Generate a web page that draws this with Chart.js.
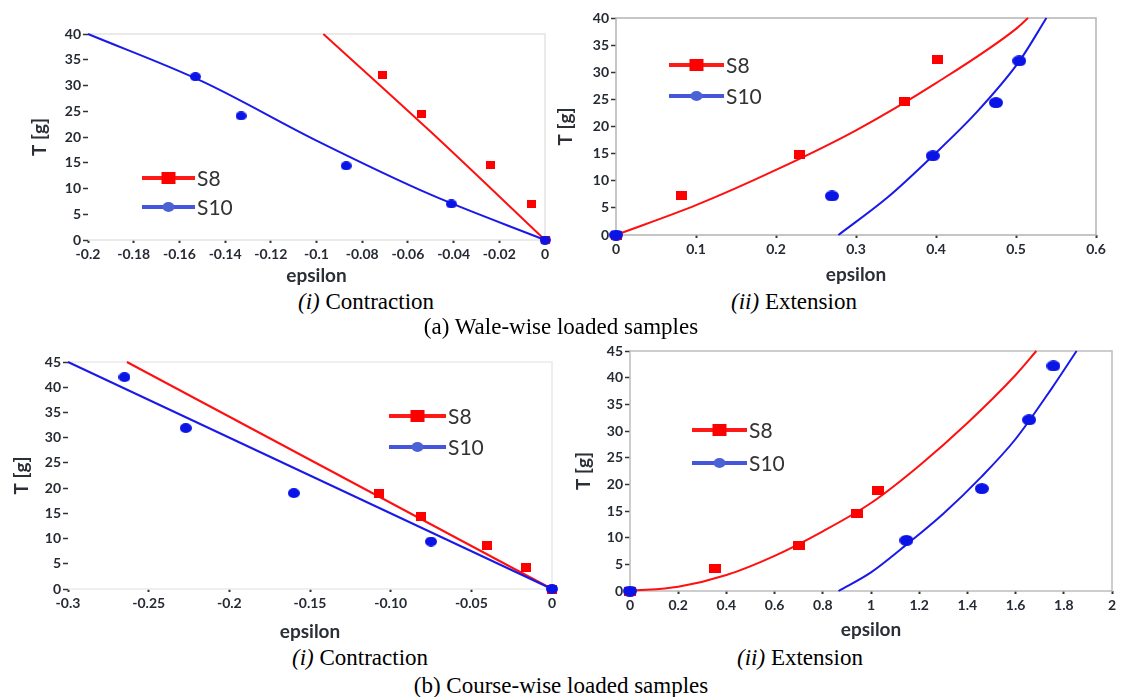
<!DOCTYPE html>
<html>
<head>
<meta charset="utf-8">
<script src="https://cdn.jsdelivr.net/npm/chart.js@4.4.1/dist/chart.umd.min.js"></script>
<style>
  html, body { margin: 0; padding: 0; background: #fff; }
  #page { position: relative; width: 1123px; height: 697px; overflow: hidden; background: #fff; }
  canvas { position: absolute; }
  .cap {
    position: absolute;
    transform: translate(-50%, -50%);
    font-family: 'Liberation Serif', 'Times New Roman', serif;
    font-size: 23px;
    color: #000;
    white-space: nowrap;
  }
</style>
</head>
<body>
<div id="page">
  <canvas id="c1"></canvas>
  <canvas id="c2"></canvas>
  <canvas id="c3"></canvas>
  <canvas id="c4"></canvas>
  <div class="cap" style="left:366px;top:302px"><i>(i)</i> Contraction</div>
  <div class="cap" style="left:794px;top:302px"><i>(ii)</i> Extension</div>
  <div class="cap" style="left:561px;top:327px">(a) Wale-wise loaded samples</div>
  <div class="cap" style="left:360px;top:658px"><i>(i)</i> Contraction</div>
  <div class="cap" style="left:800px;top:658px"><i>(ii)</i> Extension</div>
  <div class="cap" style="left:561px;top:686px">(b) Course-wise loaded samples</div>
</div>
<script>
// ========== DATA ==========
const seriesNames = ['S8', 'S10'];

// (a)(i) wale-wise, contraction
const wcS8x = [-0.071, -0.054, -0.024, -0.006, 0];
const wcS8y = [32, 24.5, 14.5, 7, 0];
const wcS10x = [-0.153, -0.133, -0.087, -0.041, 0];
const wcS10y = [31.7, 24.1, 14.4, 7, 0];
const wcFit8x = [-0.097, -0.05, 0];
const wcFit8y = [40, 21, 0];
const wcFit10x = [-0.2, -0.15, -0.1, -0.05, 0];
const wcFit10y = [40, 30.8, 19.3, 8.8, 0];

// (a)(ii) wale-wise, extension
const weS8x = [0, 0.082, 0.229, 0.36, 0.402];
const weS8y = [0, 7.2, 14.8, 24.6, 32.3];
const weS10x = [0, 0.27, 0.396, 0.475, 0.504];
const weS10y = [0, 7.2, 14.6, 24.4, 32.1];
const weFit8x = [0, 0.1, 0.2, 0.3, 0.4, 0.5, 0.515];
const weFit8y = [0, 5.5, 12, 19.3, 28, 38, 40];
const weFit10x = [0.278, 0.34, 0.396, 0.45, 0.504, 0.538];
const weFit10y = [0, 7, 14.6, 22.5, 32, 40];

// (b)(i) course-wise, contraction
const ccS8x = [-0.107, -0.081, -0.04, -0.016, 0];
const ccS8y = [18.9, 14.3, 8.6, 4.2, 0];
const ccS10x = [-0.265, -0.227, -0.16, -0.075, 0];
const ccS10y = [42, 31.9, 19, 9.4, 0];
const ccFit8x = [-0.2635, 0];
const ccFit8y = [45, 0];
const ccFit10x = [-0.3, 0];
const ccFit10y = [45, 0];

// (b)(ii) course-wise, extension
const ceS8x = [0, 0.354, 0.701, 0.942, 1.028];
const ceS8y = [0, 4.2, 8.6, 14.5, 18.9];
const ceS10x = [0, 1.147, 1.46, 1.656, 1.757];
const ceS10y = [0, 9.5, 19.2, 32.1, 42.2];
const ceFit8x = [0, 0.2, 0.4, 0.6, 0.8, 1.0, 1.2, 1.4, 1.6, 1.686];
const ceFit8y = [0, 0.8, 3, 6.6, 11.2, 16.5, 23.5, 31.5, 40.5, 45];
const ceFit10x = [0.865, 1.0, 1.147, 1.3, 1.46, 1.6, 1.75, 1.853];
const ceFit10y = [0, 3.5, 8.7, 14.5, 21.5, 28.5, 38, 45];

// tick values and labels
const xTicks1 = [-0.2, -0.18, -0.16, -0.14, -0.12, -0.1, -0.08, -0.06, -0.04, -0.02, 0];
const xLabels1 = ['-0.2', '-0.18', '-0.16', '-0.14', '-0.12', '-0.1', '-0.08', '-0.06', '-0.04', '-0.02', '0'];
const xTicks2 = [0, 0.1, 0.2, 0.3, 0.4, 0.5, 0.6];
const xLabels2 = ['0', '0.1', '0.2', '0.3', '0.4', '0.5', '0.6'];
const xTicks3 = [-0.3, -0.25, -0.2, -0.15, -0.1, -0.05, 0];
const xLabels3 = ['-0.3', '-0.25', '-0.2', '-0.15', '-0.10', '-0.05', '0'];
const xTicks4 = [0, 0.2, 0.4, 0.6, 0.8, 1, 1.2, 1.4, 1.6, 1.8, 2];
const xLabels4 = ['0', '0.2', '0.4', '0.6', '0.8', '1', '1.2', '1.4', '1.6', '1.8', '2'];
const yTicks40 = [0, 5, 10, 15, 20, 25, 30, 35, 40];
const yTicks45 = [0, 5, 10, 15, 20, 25, 30, 35, 40, 45];

const RED = '#ff1010';
const BLUE = '#1a1ae8';
const TICK_COLOR = '#262a33';
const TITLE_LH = 19 * 1.2;

const zip = (xs, ys) => xs.map((x, i) => ({ x, y: ys[i] }));

// small canvas markers (the source markers are a bit wider than tall)
function makeMarker(w, h, color, shape) {
  const c = document.createElement('canvas');
  c.width = w;
  c.height = h;
  const g = c.getContext('2d');
  g.fillStyle = color;
  if (shape === 'rect') {
    g.fillRect(0, 0, w, h);
  } else {
    g.beginPath();
    g.ellipse(w / 2, h / 2, w / 2, h / 2, 0, 0, Math.PI * 2);
    g.fill();
  }
  return c;
}

// ========== PLUGINS ==========
const plotFrame = {
  id: 'plotFrame',
  beforeDatasetsDraw(chart, args, opts) {
    const { ctx, chartArea: a } = chart;
    ctx.save();
    ctx.strokeStyle = opts.color;
    ctx.lineWidth = 1.5;
    ctx.beginPath();
    ctx.moveTo(a.left, a.bottom);
    ctx.lineTo(a.right, a.bottom);
    ctx.lineTo(a.right, a.top);
    ctx.lineTo(a.left, a.top);
    if (opts.left) ctx.lineTo(a.left, a.bottom);
    ctx.stroke();
    ctx.restore();
  }
};

const insideLegend = {
  id: 'insideLegend',
  afterDatasetsDraw(chart, args, opts) {
    const ctx = chart.ctx;
    seriesNames.forEach((name, i) => {
      const y = opts.y + i * opts.gap;
      const x0 = opts.x, x1 = opts.x + opts.len, xm = (x0 + x1) / 2;
      ctx.save();
      ctx.lineWidth = 4;
      ctx.strokeStyle = i === 0 ? '#ff1a1a' : '#4656dc';
      ctx.beginPath();
      ctx.moveTo(x0, y);
      ctx.lineTo(x1, y);
      ctx.stroke();
      if (i === 0) {
        ctx.fillStyle = '#ff0000';
        ctx.fillRect(xm - 7, y - 6, 14, 12);
      } else {
        ctx.fillStyle = '#4a62d4';
        ctx.beginPath();
        ctx.ellipse(xm, y, 6, 5, 0, 0, Math.PI * 2);
        ctx.fill();
      }
      ctx.fillStyle = '#333';
      ctx.font = '21px Lato';
      ctx.textBaseline = 'middle';
      ctx.fillText(name, x1 + 2, y + 1);
      ctx.restore();
    });
  }
};

// ========== CHART BUILDER ==========
function buildPanel(id, p) {
  const [cx, cy, cw, ch] = p.canvas;
  const [al, at, ar, ab] = p.area;
  const el = document.getElementById(id);
  el.width = cw;
  el.height = ch;
  el.style.left = cx + 'px';
  el.style.top = cy + 'px';
  el.style.width = cw + 'px';
  el.style.height = ch + 'px';

  const tickFont = { family: 'Lato', size: 14, weight: 'bold' };
  const titleFont = { family: 'Lato', size: 19, weight: 'bold', lineHeight: 1.2 };

  return new Chart(el, {
    type: 'scatter',
    data: {
      datasets: [
        { label: 'S8 fit', data: zip(p.fit8[0], p.fit8[1]), showLine: true, borderColor: RED, borderWidth: 2,
          pointRadius: 0, cubicInterpolationMode: 'monotone', clip: 2, order: 3 },
        { label: 'S10 fit', data: zip(p.fit10[0], p.fit10[1]), showLine: true, borderColor: BLUE, borderWidth: 2,
          pointRadius: 0, cubicInterpolationMode: 'monotone', clip: 2, order: 2 },
        { label: 'S8', data: zip(p.s8[0], p.s8[1]), pointStyle: makeMarker(p.sq[0], p.sq[1], '#ff0000', 'rect'),
          pointRadius: 6, clip: false, order: 1 },
        { label: 'S10', data: zip(p.s10[0], p.s10[1]), pointStyle: makeMarker(p.dot[0], p.dot[1], '#0a14e6', 'ellipse'),
          pointRadius: 6, clip: false, order: 0 }
      ]
    },
    options: {
      responsive: false,
      animation: false,
      layout: { padding: { left: 0, top: at - cy, right: cx + cw - ar, bottom: 0 } },
      plugins: {
        legend: { display: false },
        tooltip: { enabled: false },
        plotFrame: { color: p.frame, left: p.frameLeft },
        insideLegend: p.legend
      },
      scales: {
        x: {
          type: 'linear',
          min: p.xTicks[0],
          max: p.xTicks[p.xTicks.length - 1],
          afterBuildTicks: s => { s.ticks = p.xTicks.map(v => ({ value: v })); },
          afterFit: s => { s.height = cy + ch - ab; s.paddingLeft = 0; s.paddingRight = 0; },
          border: { display: false },
          grid: { drawOnChartArea: false, tickLength: 3, tickColor: '#333', tickWidth: 2 },
          ticks: { font: tickFont, color: TICK_COLOR, padding: 3, maxRotation: 0, autoSkip: false,
                   callback: (v, i) => p.xLabels[i] },
          title: { display: true, text: 'epsilon', font: titleFont, color: '#2b2f36',
                   padding: { top: 0, bottom: cy + ch - p.xTitleY - TITLE_LH / 2 } }
        },
        y: {
          type: 'linear',
          min: 0,
          max: p.yTicks[p.yTicks.length - 1],
          afterBuildTicks: s => { s.ticks = p.yTicks.map(v => ({ value: v })); },
          afterFit: s => { s.width = al - cx; s.paddingTop = 0; s.paddingBottom = 0; },
          border: { display: false },
          grid: { drawOnChartArea: false, tickLength: 5, tickColor: '#333', tickWidth: 1.5 },
          ticks: { font: tickFont, color: TICK_COLOR, padding: 2, autoSkip: false },
          title: { display: true, text: 'T [g]', font: titleFont, color: '#2b2f36',
                   padding: { top: p.yTitleX - cx - TITLE_LH / 2, bottom: 0 } }
        }
      }
    },
    plugins: [plotFrame, insideLegend]
  });
}

// ========== PANELS ==========
buildPanel('c1', {
  canvas: [0, 0, 560, 288], area: [88, 34, 545, 240], yTitleX: 40, xTitleY: 276,
  xTicks: xTicks1, xLabels: xLabels1, yTicks: yTicks40, frame: '#e4e4e4', frameLeft: false,
  s8: [wcS8x, wcS8y], s10: [wcS10x, wcS10y], fit8: [wcFit8x, wcFit8y], fit10: [wcFit10x, wcFit10y],
  sq: [9, 8], dot: [11, 9],
  legend: { x: 142, y: 178, gap: 29, len: 53 }
});

buildPanel('c2', {
  canvas: [552, 0, 571, 288], area: [616, 18, 1096, 235], yTitleX: 566, xTitleY: 275,
  xTicks: xTicks2, xLabels: xLabels2, yTicks: yTicks40, frame: '#b4b4b4', frameLeft: true,
  s8: [weS8x, weS8y], s10: [weS10x, weS10y], fit8: [weFit8x, weFit8y], fit10: [weFit10x, weFit10y],
  sq: [11, 9], dot: [14, 11],
  legend: { x: 669 - 552, y: 65, gap: 31, len: 55 }
});

buildPanel('c3', {
  canvas: [0, 340, 570, 305], area: [68, 362, 552, 589], yTitleX: 22, xTitleY: 632,
  xTicks: xTicks3, xLabels: xLabels3, yTicks: yTicks45, frame: '#eaeaea', frameLeft: false,
  s8: [ccS8x, ccS8y], s10: [ccS10x, ccS10y], fit8: [ccFit8x, ccFit8y], fit10: [ccFit10x, ccFit10y],
  sq: [10, 9], dot: [12, 10],
  legend: { x: 389, y: 416 - 340, gap: 31, len: 57 }
});

buildPanel('c4', {
  canvas: [552, 335, 571, 308], area: [630, 351, 1112, 591], yTitleX: 584, xTitleY: 630,
  xTicks: xTicks4, xLabels: xLabels4, yTicks: yTicks45, frame: '#bdbdbd', frameLeft: true,
  s8: [ceS8x, ceS8y], s10: [ceS10x, ceS10y], fit8: [ceFit8x, ceFit8y], fit10: [ceFit10x, ceFit10y],
  sq: [12, 9], dot: [14, 11],
  legend: { x: 692 - 552, y: 430 - 335, gap: 33, len: 55 }
});
</script>
</body>
</html>
